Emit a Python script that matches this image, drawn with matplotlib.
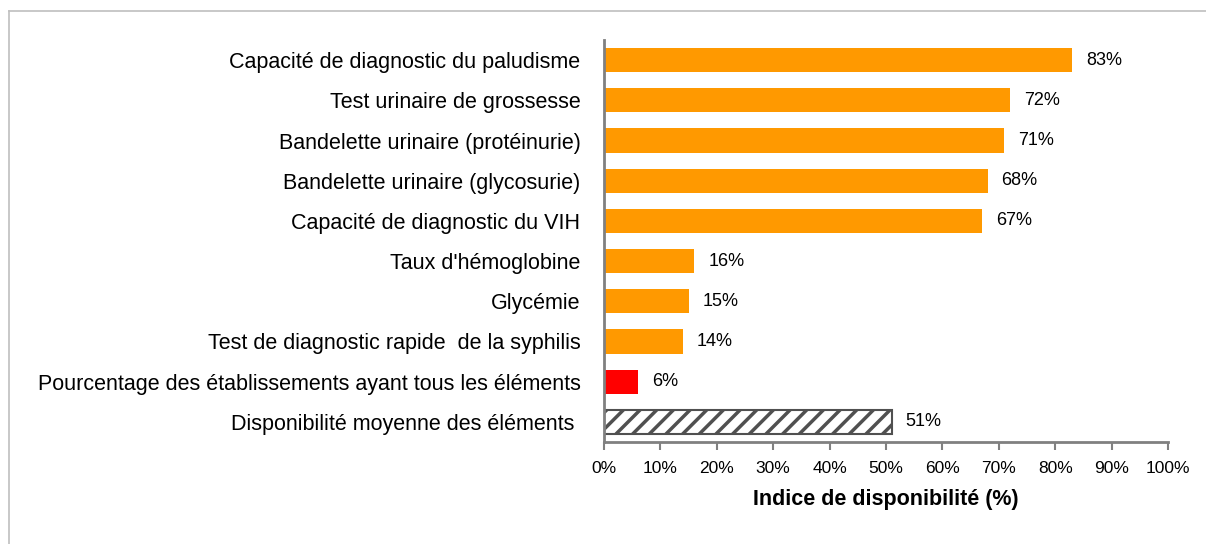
import matplotlib.pyplot as plt
from matplotlib.lines import Line2D

plt.rcParams['font.family'] = ['Liberation Sans', 'DejaVu Sans']
plt.rcParams['hatch.linewidth'] = 2.5

# data (top to bottom)
labels = [
    "Capacité de diagnostic du paludisme",
    "Test urinaire de grossesse",
    "Bandelette urinaire (protéinurie)",
    "Bandelette urinaire (glycosurie)",
    "Capacité de diagnostic du VIH",
    "Taux d'hémoglobine",
    "Glycémie",
    "Test de diagnostic rapide  de la syphilis",
    "Pourcentage des établissements ayant tous les éléments",
    "Disponibilité moyenne des éléments ",
]
values = [83, 72, 71, 68, 67, 16, 15, 14, 6, 51]
xticks = list(range(0, 101, 10))

W, H = 1206, 544
fig = plt.figure(figsize=(W / 100, H / 100), dpi=100)
ax = fig.add_axes([604 / W, 1 - 442 / H, (1168 - 604) / W, (442 - 40) / H])

y = list(range(len(values)))
for i, v in enumerate(values):
    if i == len(values) - 1:
        ax.barh(i, v, height=0.6, color='white', edgecolor='#505050',
                hatch='//', linewidth=1.5)
    elif i == len(values) - 2:
        ax.barh(i, v, height=0.6, color='#FF0000')
    else:
        ax.barh(i, v, height=0.6, color='#FF9900')
    ax.text(v + 2.5, i, f"{v}%", va='center', ha='left', fontsize=13)

ax.set_ylim(len(values) - 0.5, -0.5)
ax.set_xlim(0, 100)
ax.set_yticks(y)
ax.set_yticklabels(labels, fontsize=15.5)
ax.set_xticks(xticks)
ax.set_xticklabels([f"{t}%" for t in xticks], fontsize=12.5)
ax.tick_params(axis='y', length=0, pad=17)
ax.tick_params(axis='x', length=6, width=1.5, color='#808080', pad=8)
for s in ['top', 'right']:
    ax.spines[s].set_visible(False)
for s in ['left', 'bottom']:
    ax.spines[s].set_color('#808080')
    ax.spines[s].set_linewidth(2)
ax.set_xlabel("Indice de disponibilité (%)", fontsize=15.5, fontweight='bold', labelpad=9)

# figure frame (top and left edges)
fig.add_artist(Line2D([9 / W, 1], [1 - 11 / H, 1 - 11 / H], color='#BFBFBF', lw=1.2))
fig.add_artist(Line2D([9 / W, 9 / W], [0, 1 - 11 / H], color='#BFBFBF', lw=1.2))

fig.savefig('out.png', dpi=100)
